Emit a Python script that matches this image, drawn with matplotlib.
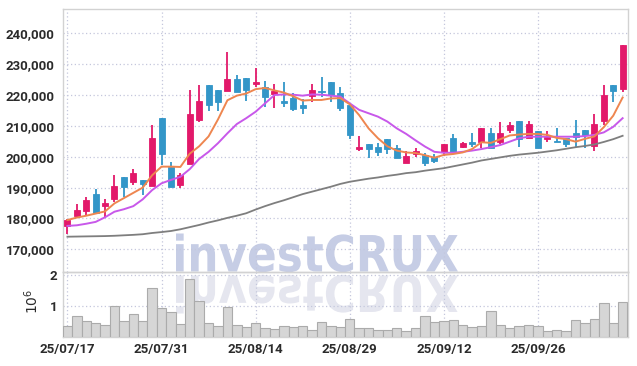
import matplotlib
matplotlib.use('Agg')
import matplotlib.pyplot as plt
import matplotlib.transforms as mtransforms
from matplotlib.patches import PathPatch
from matplotlib.textpath import TextPath
from matplotlib.font_manager import FontProperties
from matplotlib.ticker import FuncFormatter, FixedLocator
import numpy as np

# trading days (yy/mm/dd)
dates = ['25/07/17', '25/07/18', '25/07/21', '25/07/22', '25/07/23', '25/07/24', '25/07/25',
         '25/07/28', '25/07/29', '25/07/30', '25/07/31',
         '25/08/01', '25/08/04', '25/08/05', '25/08/06', '25/08/07', '25/08/08', '25/08/11',
         '25/08/12', '25/08/13', '25/08/14',
         '25/08/18', '25/08/19', '25/08/20', '25/08/21', '25/08/22', '25/08/25', '25/08/26',
         '25/08/27', '25/08/28', '25/08/29',
         '25/09/01', '25/09/02', '25/09/03', '25/09/04', '25/09/05', '25/09/08', '25/09/09',
         '25/09/10', '25/09/11', '25/09/12',
         '25/09/15', '25/09/16', '25/09/17', '25/09/18', '25/09/19', '25/09/22', '25/09/23',
         '25/09/24', '25/09/25', '25/09/26',
         '25/09/29', '25/09/30', '25/10/01', '25/10/02', '25/10/10', '25/10/13', '25/10/14',
         '25/10/15', '25/10/16']

opens = [177500, 180800, 182500, 187900, 184100, 186400, 193400, 191900, 192600, 190500,
         212600, 196800, 190900, 197700, 211900, 223200, 221600, 221400, 225200, 225500,
         223500, 222500, 220300, 218200, 219100, 216800, 219800, 221400, 224100, 220600,
         216700, 202600, 204000, 203200, 205800, 202800, 198100, 200800, 200500, 199800,
         201700, 206200, 203100, 204800, 204900, 207800, 204900, 208600, 211600, 206000,
         208400, 205700, 205200, 206000, 207600, 208600, 203600, 211500, 223200, 222100]
highs = [179700, 184700, 186900, 189700, 186300, 194000, 193400, 195900, 192600, 210300,
         212600, 198300, 194600, 221600, 223200, 223200, 221600, 233800, 226400, 225500,
         228900, 224600, 223500, 224100, 220600, 218800, 223500, 225700, 224100, 222500,
         216700, 206700, 204000, 204600, 205800, 203700, 201900, 202700, 201100, 200800,
         204200, 207300, 204900, 207600, 209400, 209300, 211200, 211400, 211600, 211500,
         208400, 208200, 209300, 206000, 211900, 208600, 213800, 223100, 223200, 236200]
lows = [174900, 180600, 181100, 181700, 180400, 185400, 187100, 190800, 187500, 190500,
        197300, 190100, 189800, 197700, 211300, 214700, 214900, 221400, 221100, 218100,
        222500, 216000, 215700, 216000, 214700, 213800, 217800, 219500, 217800, 214900,
        205900, 202000, 199500, 200300, 200900, 199500, 197900, 200000, 197100, 198100,
        200400, 201100, 203000, 203100, 203000, 203000, 204200, 207600, 203100, 206000,
        202700, 204800, 204800, 203200, 203100, 202800, 201900, 210400, 217800, 221100]
closes = [179500, 182700, 186000, 181900, 185000, 190500, 190100, 194700, 191300, 206100,
          200900, 190100, 194100, 213900, 218100, 216800, 217800, 225200, 221100, 221500,
          224200, 219500, 221300, 217500, 215600, 215900, 221600, 221100, 220000, 215900,
          207200, 203300, 202600, 201600, 202600, 199700, 200300, 201900, 198100, 198500,
          204200, 201700, 204300, 204000, 209400, 203000, 207800, 210200, 205700, 210500,
          202700, 206400, 204800, 204100, 206400, 207100, 210500, 219900, 221400, 236200]

# volume, millions of shares
volumes = [0.35, 0.66, 0.50, 0.44, 0.37, 1.00, 0.50, 0.75, 0.50, 1.59,
           0.94, 0.81, 0.41, 1.88, 1.16, 0.44, 0.35, 0.97, 0.37, 0.31,
           0.44, 0.28, 0.25, 0.35, 0.31, 0.35, 0.22, 0.47, 0.35, 0.31,
           0.59, 0.28, 0.28, 0.22, 0.22, 0.28, 0.19, 0.28, 0.66, 0.47,
           0.50, 0.56, 0.37, 0.31, 0.34, 0.84, 0.37, 0.28, 0.34, 0.37,
           0.34, 0.19, 0.22, 0.19, 0.56, 0.44, 0.59, 1.09, 0.44, 1.12]

ma5 = [179500, 180300, 180900, 181600, 182300, 184900, 186600, 188300, 190000, 194000,
       196800, 196800, 196700, 201000, 203400, 206600, 212100, 218300, 219800, 220500,
       221900, 222300, 221500, 220800, 219600, 218200, 218400, 218400, 218900, 219000,
       217000, 213500, 209200, 206000, 203400, 202000, 201400, 201200, 200500, 199700,
       200600, 200900, 201400, 202500, 204700, 204500, 205700, 206900, 207200, 207400,
       207400, 207100, 206100, 205700, 204900, 205800, 206600, 209600, 213300, 219200]
ma20 = [177600, 177800, 178300, 178900, 180400, 182200, 183000, 184000, 186200, 189200,
        191400, 192500, 193500, 196000, 199300, 201600, 204400, 207600, 210600, 212500,
        214600, 217300, 220000, 220200, 220100, 219800, 220200, 220100, 219800, 219500,
        217300, 215200, 214100, 213000, 211400, 209200, 207400, 205300, 203300, 201600,
        201300, 201300, 201600, 202000, 202500, 203100, 203800, 204900, 206000, 206500,
        206500, 206500, 206500, 206500, 206500, 206700, 207100, 207900, 209700, 212500]
ma_long = [174100, 174150, 174200, 174250, 174300, 174400, 174550, 174700, 174900, 175300,
           175600, 175950, 176500, 177200, 177900, 178700, 179400, 180200, 180900, 181700,
           182900, 184000, 185000, 185900, 186900, 187900, 188700, 189500, 190300, 191200,
           191900, 192400, 192900, 193300, 193800, 194200, 194700, 195000, 195500, 195900,
           196300, 196900, 197500, 198100, 198800, 199300, 199800, 200300, 200700, 201000,
           201300, 201700, 202100, 202600, 203100, 203500, 204000, 204800, 205700, 206800]

tick_every = 10

UP = '#E2196A'
DOWN = '#3396C8'
GRID = '#C4C7DC'
SPINE = '#D2D2D2'
TXT = '#2B2B2B'

plt.rcParams['font.family'] = ['Roboto', 'DejaVu Sans']

fig = plt.figure(figsize=(6.37, 3.66), dpi=100)
W, H = 637.0, 366.0
left, right = 63 / W, 628 / W
ax = fig.add_axes([left, 1 - 271.7 / H, right - left, (271.7 - 9.3) / H])
axv = fig.add_axes([left, 1 - 337 / H, right - left, (337 - 271.7) / H], sharex=ax)
for a in (ax, axv):
    a.set_facecolor('none')

# watermark with reflection, behind both panels
fp = FontProperties(family='DejaVu Sans', weight='bold')
tp = TextPath((0, 0), 'investCRUX', size=100, prop=fp)
bb = tp.get_extents()
sx = 282 / bb.width
sy = 38 / bb.y1
base = H - 271.5
main_tf = mtransforms.Affine2D().translate(-bb.x0, 0).scale(sx, sy).translate(176, base)
refl_tf = mtransforms.Affine2D().translate(-bb.x0, 0).scale(sx, -sy).translate(176, base - 4)
fig.add_artist(PathPatch(main_tf.transform_path(tp), facecolor='#C6CDE5', edgecolor='none',
                         transform=mtransforms.IdentityTransform(), zorder=-2))
fig.add_artist(PathPatch(refl_tf.transform_path(tp), facecolor='#E5E6EF', edgecolor='none',
                         transform=mtransforms.IdentityTransform(), zorder=-2))

x = np.arange(len(dates))
o = np.array(opens); c = np.array(closes)
hi = np.array(highs); lo = np.array(lows)
up = c >= o
cols = np.where(up, UP, DOWN)

ax.vlines(x, lo, hi, colors=cols, lw=1.3, zorder=3)
body = np.maximum(np.abs(c - o), 250)
ax.bar(x, body, bottom=np.minimum(o, c), width=0.64, color=cols, edgecolor=cols,
       lw=0.6, zorder=4)

ax.plot(x, ma_long, color='#7E7E7E', lw=1.3, zorder=5)
ax.plot(x, ma20, color='#C858EA', lw=1.4, zorder=5)
ax.plot(x, ma5, color='#EE8650', lw=1.4, zorder=5)

ax.set_xlim(-0.47, len(dates) - 0.43)
ax.set_ylim(162760, 247780)
ax.set_yticks(np.arange(170000, 240001, 10000))
ax.yaxis.set_major_formatter(FuncFormatter(lambda v, p: f'{v:,.0f}'))

axv.bar(x, np.array(volumes) * 1e6, width=1.0, color='#D6D6D6', edgecolor='#ABABAB',
        lw=0.8, zorder=3)
axv.set_ylim(0, 2.1e6)
axv.set_yticks([1e6, 2e6])
axv.yaxis.set_major_formatter(FuncFormatter(lambda v, p: f'{v / 1e6:g}'))
axv.set_ylabel(r'$10^6$', fontsize=10, color=TXT, family='DejaVu Sans')
axv.yaxis.set_label_coords(-0.039, 0.54)

ticks = list(range(0, len(dates), tick_every))
axv.xaxis.set_major_locator(FixedLocator(ticks))
axv.set_xticklabels([dates[i] for i in ticks])

for a in (ax, axv):
    a.grid(True, linestyle=(0, (1, 2)), color=GRID, lw=0.9, zorder=0)
    a.set_axisbelow(True)
    a.tick_params(length=0, pad=6, labelsize=9.5, labelcolor=TXT)
    for lab in a.get_xticklabels() + a.get_yticklabels():
        lab.set_fontweight('bold')
    for s in a.spines.values():
        s.set_color(SPINE)
        s.set_linewidth(1.0)
ax.tick_params(labelbottom=False)
axv.tick_params(pad=4)

fig.savefig('out.png', dpi=100, facecolor='white')
